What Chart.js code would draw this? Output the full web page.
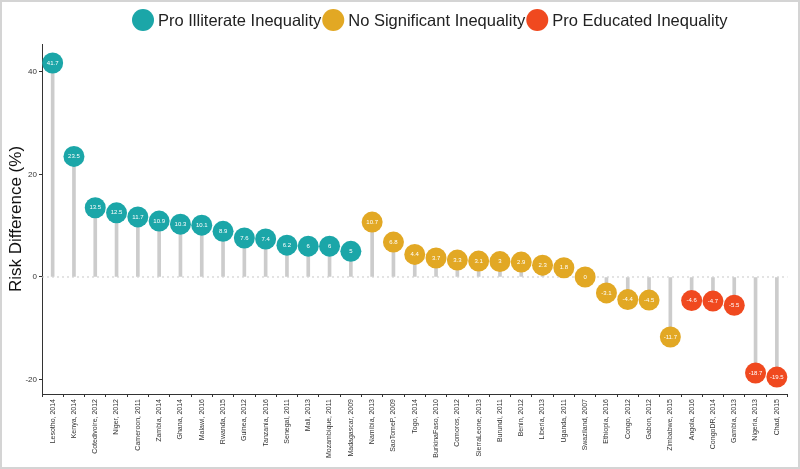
<!DOCTYPE html>
<html>
<head>
<meta charset="utf-8">
<script src="https://cdn.jsdelivr.net/npm/chart.js@4/dist/chart.umd.min.js"></script>
<style>
  html, body { margin: 0; padding: 0; background: #fff; }
  #wrap { width: 800px; height: 469px; box-sizing: border-box; border: 2px solid #d4d4d4; }
</style>
</head>
<body>
<div id="wrap"><canvas id="myChart" width="796" height="465"></canvas></div>
<script>
const countries = ['Lesotho, 2014', 'Kenya, 2014', 'Cotedivoire, 2012', 'Niger, 2012', 'Cameroon, 2011', 'Zambia, 2014', 'Ghana, 2014', 'Malawi, 2016', 'Rwanda, 2015', 'Guinea, 2012', 'Tanzania, 2016', 'Senegal, 2011', 'Mali, 2013', 'Mozambique, 2011', 'Madagascar, 2009', 'Namibia, 2013', 'SaoTomeP, 2009', 'Togo, 2014', 'BurkinaFaso, 2010', 'Comoros, 2012', 'SierraLeone, 2013', 'Burundi, 2011', 'Benin, 2012', 'Liberia, 2013', 'Uganda, 2011', 'Swaziland, 2007', 'Ethiopia, 2016', 'Congo, 2012', 'Gabon, 2012', 'Zimbabwe, 2015', 'Angola, 2016', 'CongoDR, 2014', 'Gambia, 2013', 'Nigeria, 2013', 'Chad, 2015']
const riskDiff = [41.7, 23.5, 13.5, 12.5, 11.7, 10.9, 10.3, 10.1, 8.9, 7.6, 7.4, 6.2, 6, 6, 5, 10.7, 6.8, 4.4, 3.7, 3.3, 3.1, 3, 2.9, 2.3, 1.8, 0, -3.1, -4.4, -4.5, -11.7, -4.6, -4.7, -5.5, -18.7, -19.5]
// group of each country: 0 pro illiterate, 1 no significant, 2 pro educated
const group = [0, 0, 0, 0, 0, 0, 0, 0, 0, 0, 0, 0, 0, 0, 0, 1, 1, 1, 1, 1, 1, 1, 1, 1, 1, 1, 1, 1, 1, 1, 2, 2, 2, 2, 2]
const groupNames = ['Pro Illiterate Inequality', 'No Significant Inequality', 'Pro Educated Inequality']
const groupColors = ['#1ba6a8', '#e2a824', '#f0491f']
const yTicks = [-20, 0, 20, 40]

const FONT = '"Liberation Sans", Arial, sans-serif'

const pointSets = groupNames.map((name, g) => ({
    type: 'line',
    label: name,
    data: riskDiff.map((v, i) => group[i] === g ? v : null),
    showLine: false,
    pointRadius: 10.5,
    pointHoverRadius: 10.5,
    pointBorderWidth: 0,
    backgroundColor: groupColors[g],
    borderColor: groupColors[g],
    pointBackgroundColor: groupColors[g],
    order: 1
}))

const zeroLine = {
    id: 'zeroLine',
    beforeDatasetsDraw(chart) {
        const y = chart.scales.y.getPixelForValue(0)
        const a = chart.chartArea
        const ctx = chart.ctx
        ctx.save()
        ctx.strokeStyle = '#c8c8c8'
        ctx.lineWidth = 1
        ctx.setLineDash([2, 3])
        ctx.beginPath()
        ctx.moveTo(a.left, y)
        ctx.lineTo(a.right, y)
        ctx.stroke()
        ctx.restore()
    }
}

const pointLabels = {
    id: 'pointLabels',
    afterDatasetsDraw(chart) {
        const ctx = chart.ctx
        ctx.save()
        ctx.fillStyle = '#ffffff'
        ctx.font = '6px ' + FONT
        ctx.textAlign = 'center'
        ctx.textBaseline = 'middle'
        riskDiff.forEach((v, i) => {
            const x = chart.scales.x.getPixelForValue(i)
            const y = chart.scales.y.getPixelForValue(v)
            ctx.fillText(String(v), x, y)
        })
        ctx.restore()
    }
}

// legend drawn by hand: big circles, text tight against the next circle
const topLegend = {
    id: 'topLegend',
    afterDraw(chart) {
        const ctx = chart.ctx
        ctx.save()
        ctx.font = '16.5px ' + FONT
        ctx.textBaseline = 'middle'
        ctx.textAlign = 'left'
        let x = 130
        const y = 18
        groupNames.forEach((name, g) => {
            ctx.fillStyle = groupColors[g]
            ctx.beginPath()
            ctx.arc(x + 11, y, 11, 0, Math.PI * 2)
            ctx.fill()
            x += 26
            ctx.fillStyle = '#222'
            ctx.fillText(name, x, y + 1)
            x += ctx.measureText(name).width + 1
        })
        ctx.restore()
    }
}

const data = {
    labels: countries,
    datasets: [{
            type: 'bar',
            label: 'stem',
            data: riskDiff,
            backgroundColor: '#cccccc',
            barThickness: 3,
            order: 10
        },
        ...pointSets
    ]
}

const config = {
    type: 'bar',
    data: data,
    options: {
        responsive: false,
        animation: false,
        layout: { padding: { top: 42, right: 8, left: 4, bottom: 3 } },
        plugins: {
            tooltip: { enabled: false },
            legend: { display: false }
        },
        scales: {
            x: {
                offset: true,
                grid: { display: true, drawOnChartArea: false, drawTicks: true, tickLength: 3, color: '#333' },
                border: { display: true, color: '#333', width: 1 },
                ticks: {
                    autoSkip: false,
                    minRotation: 90,
                    maxRotation: 90,
                    padding: 2,
                    color: '#333',
                    font: { size: 7, family: FONT }
                },
                afterFit: s => { s.height = 70 }
            },
            y: {
                min: -22.8,
                max: 45.4,
                afterBuildTicks: s => { s.ticks = yTicks.map(v => ({ value: v })) },
                grid: { display: true, drawOnChartArea: false, drawTicks: true, tickLength: 3, color: '#333' },
                border: { display: true, color: '#333', width: 1 },
                ticks: {
                    padding: 2,
                    color: '#333',
                    font: { size: 8, family: FONT }
                },
                title: {
                    display: true,
                    text: 'Risk Difference (%)',
                    color: '#111',
                    padding: { top: 0, bottom: 4 },
                    font: { size: 17, family: FONT }
                },
                afterFit: s => { s.width = 36 }
            }
        }
    },
    plugins: [zeroLine, pointLabels, topLegend]
}

var myChart = new Chart(
    document.getElementById('myChart'),
    config
)
</script>
</body>
</html>
